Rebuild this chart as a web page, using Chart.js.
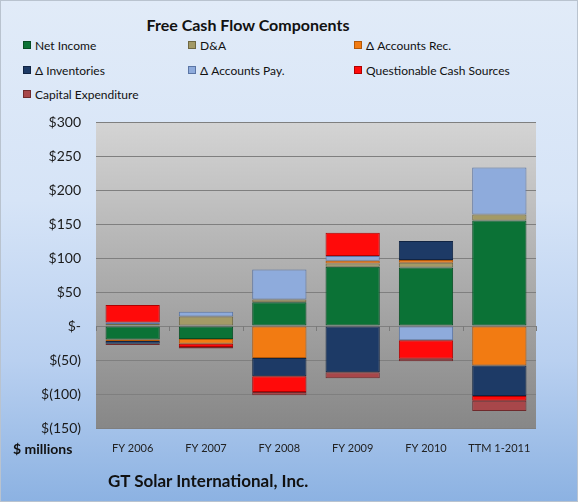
<!DOCTYPE html>
<html>
<head>
<meta charset="utf-8">
<script src="https://cdn.jsdelivr.net/npm/chart.js@4.4.1/dist/chart.umd.min.js"></script>
<style>
  body { margin: 0; background: #fff; }
  #wrap {
    position: relative; width: 578px; height: 502px; box-sizing: border-box;
    border: 1px solid #b9c3cf;
    background: linear-gradient(to bottom, #e1ebf8 0%, #d6e4f7 40%, #b9d0f0 72%, #8cb2e2 100%);
    font-family: Lato, "Noto Sans", sans-serif; color: #111;
  }
  #fcfChart { position: absolute; left: 0; top: 0; }
  #title { position: absolute; top: 14px; left: 0; width: 494px; text-align: center; font-weight: bold; font-size: 16px; }
  .leg { position: absolute; font-size: 12px; line-height: 14px; white-space: nowrap; }
  .leg i { display: inline-block; width: 6px; height: 6px; margin-right: 4px; vertical-align: 1px; border: 1px solid; }
  #units { position: absolute; left: 12px; top: 439px; font-weight: bold; font-size: 14px; }
  #company { position: absolute; left: 107px; top: 469px; font-weight: bold; font-size: 17px; }
</style>
</head>
<body>
<div id="wrap">
  <div id="title">Free Cash Flow Components</div>
  <div id="legend"></div>
  <canvas id="fcfChart" width="578" height="502"></canvas>
  <div id="units">$ millions</div>
  <div id="company">GT Solar International, Inc.</div>
</div>
<script>
// Categorías y valores ($ millones)
const periods = ['FY 2006', 'FY 2007', 'FY 2008', 'FY 2009', 'FY 2010', 'TTM 1-2011'];

const netIncome      = [-20, -19, 35, 87, 86, 155];
const depreciation   = [3, 14, 4, 5, 7, 9];
const accountsRec    = [-2, -7, -47, 4, 4, -58];
const inventories    = [-4, null, -27, -68, 28, -45];
const accountsPay    = [2, 7, 44, 7, -21, 69];
const questionable   = [26, -5, -23, 34, -27, -7];
const capex          = [-2, -2, -5, -9, -4, -15];

const yMin = -150, yMax = 300, yStep = 50;

const series = [
  { label: 'Net Income',                data: netIncome,    color: '#0b7236', edge: '#064d23' },
  { label: 'D&A',                       data: depreciation, color: '#a39a66', edge: '#6f6843' },
  { label: 'Δ Accounts Rec.',           data: accountsRec,  color: '#f27b12', edge: '#b45808' },
  { label: 'Δ Inventories',             data: inventories,  color: '#1d3a66', edge: '#112443' },
  { label: 'Δ Accounts Pay.',           data: accountsPay,  color: '#8eabdc', edge: '#5a75a5' },
  { label: 'Questionable Cash Sources', data: questionable, color: '#ff0a0a', edge: '#b00000' },
  { label: 'Capital Expenditure',       data: capex,        color: '#a8474a', edge: '#6f2a2c' }
];

// Formato de moneda estilo contable: $300, $-, $(50)
function formatMoney(v) {
  if (v === 0) return '$-';
  return v < 0 ? '$(' + Math.abs(v) + ')' : '$' + v;
}

// Leyenda HTML en tres columnas
const legendCols = [22, 187, 353];
const legendRows = [38, 63, 87];
const legendEl = document.getElementById('legend');
series.forEach((s, i) => {
  const div = document.createElement('div');
  div.className = 'leg';
  div.style.left = legendCols[i % 3] + 'px';
  div.style.top = legendRows[Math.floor(i / 3)] + 'px';
  div.innerHTML = `<i style="background:${s.color};border-color:${s.edge}"></i>${s.label}`;
  legendEl.appendChild(div);
});

// Fondo gris degradado del área de trazado
const plotBackground = {
  id: 'plotBackground',
  beforeDraw(chart) {
    const { ctx, chartArea: a } = chart;
    const g = ctx.createLinearGradient(0, a.top, 0, a.bottom);
    g.addColorStop(0, '#d4d4d4');
    g.addColorStop(1, '#878787');
    ctx.save();
    ctx.fillStyle = g;
    ctx.fillRect(a.left, a.top, a.right - a.left, a.bottom - a.top);
    ctx.restore();
  },
  beforeDatasetsDraw(chart) {
    // marcas de categoría sobre el eje en cero
    const { ctx, scales: { x, y } } = chart;
    const y0 = y.getPixelForValue(0);
    const step = x.getPixelForValue(1) - x.getPixelForValue(0);
    ctx.save();
    ctx.strokeStyle = '#7a7a7a';
    ctx.lineWidth = 1;
    ctx.beginPath();
    for (let i = 0; i <= periods.length; i++) {
      const px = Math.round(x.getPixelForValue(0) - step / 2 + i * step) + 0.5;
      ctx.moveTo(px, y0);
      ctx.lineTo(px, y0 + 5);
    }
    ctx.stroke();
    ctx.restore();
  }
};

const ctx = document.getElementById('fcfChart').getContext('2d');
new Chart(ctx, {
  type: 'bar',
  data: {
    labels: periods,
    datasets: series.map(s => ({
      label: s.label,
      data: s.data,
      backgroundColor: s.color,
      borderColor: s.edge,
      borderWidth: 1,
      borderSkipped: false
    }))
  },
  options: {
    responsive: false,
    animation: false,
    layout: { padding: { top: 121, right: 43, bottom: 45, left: 0 } },
    datasets: { bar: { categoryPercentage: 1, barPercentage: 0.74 } },
    plugins: {
      legend: { display: false },
      title: { display: false },
      tooltip: { enabled: false }
    },
    scales: {
      x: {
        stacked: true,
        grid: { display: false },
        border: { display: false },
        ticks: { color: '#222', padding: 6, font: { family: 'Lato', size: 11 } },
        afterFit(scale) { scale.height = 30; }
      },
      y: {
        stacked: true,
        min: yMin,
        max: yMax,
        grid: { color: '#7f7f7f', drawTicks: false },
        border: { display: false },
        ticks: {
          stepSize: yStep,
          padding: 15,
          color: '#1a1a1a',
          font: { family: 'Lato', size: 14 },
          callback: v => formatMoney(v)
        },
        afterFit(scale) { scale.width = 95; }
      }
    }
  },
  plugins: [plotBackground]
});
</script>
</body>
</html>
